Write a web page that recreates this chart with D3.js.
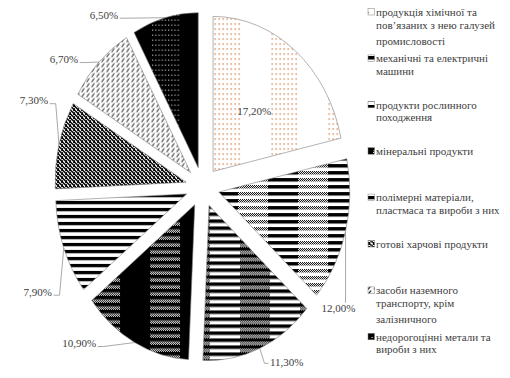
<!DOCTYPE html>
<html>
<head>
<meta charset="utf-8">
<script src="https://cdn.jsdelivr.net/npm/d3@7"></script>
<style>
  body { margin: 0; background: #fff; }
</style>
</head>
<body>
<div id="chart"></div>
<script>
// data (shares of exports, %)
var legendLines = [
  ["продукція хімічної та", "пов’язаних з нею галузей", "промисловості"],
  ["механічні та електричні", "машини"],
  ["продукти рослинного", "походження"],
  ["мінеральні продукти"],
  ["полімерні матеріали,", "пластмаса та вироби з них"],
  ["готові харчові продукти"],
  ["засоби наземного", "транспорту, крім", "залізничного"],
  ["недорогоцінні метали та", "вироби з них"]
];
var categories = legendLines.map(l => l.join(" "));
var shares = [17.2, 12.0, 11.3, 10.9, 7.9, 7.3, 6.7, 6.5];

// label placement: offset of the label from the slice's outer middle point
var labelPlace = [
  {inside: true},
  {dx: -7, dy: 76.5, side: "top"},
  {dx: 27, dy: 14, side: "left"},
  {dx: -55.5, dy: 0.5, side: "right"},
  {dx: -26, dy: 44, side: "right"},
  {dx: -25, dy: -44.5, side: "right"},
  {dx: -35, dy: -3, side: "right"},
  {dx: -61, dy: -3, side: "right"}
];

var width = 510, height = 378;
var cx = 202.5, cy = 187, radius = 155, sx = 0.845, explode = 20;
var textColor = "#404040";

// pick the first serif face that is really installed
function pickFont(list) {
  var ctx = document.createElement("canvas").getContext("2d");
  var probe = "пов’язаних з нею галузей 0123456789 mmwwii";
  var base = {};
  ["monospace", "sans-serif"].forEach(b => { ctx.font = "40px " + b; base[b] = ctx.measureText(probe).width; });
  for (var f of list) {
    var hit = ["monospace", "sans-serif"].some(b => {
      ctx.font = `40px '${f}', ${b}`;
      return ctx.measureText(probe).width !== base[b];
    });
    if (hit) return `'${f}', serif`;
  }
  return "serif";
}
var serif = pickFont(["Liberation Serif", "DejaVu Serif", "Tinos", "Times New Roman", "Noto Serif", "FreeSerif", "Nimbus Roman"]);

var svg = d3.select("#chart").append("svg")
    .attr("width", width)
    .attr("height", height)
    .attr("font-family", serif);

var defs = svg.append("defs");

// 1px checker used inside other patterns
var chk = defs.append("pattern").attr("id", "chk")
    .attr("patternUnits", "userSpaceOnUse").attr("width", 2).attr("height", 2);
chk.append("rect").attr("width", 2).attr("height", 2).attr("fill", "#fff");
chk.append("rect").attr("width", 1).attr("height", 1).attr("fill", "#000");
chk.append("rect").attr("x", 1).attr("y", 1).attr("width", 1).attr("height", 1).attr("fill", "#000");

function pattern(id, w, h, x) {
  return defs.append("pattern").attr("id", id)
      .attr("patternUnits", "userSpaceOnUse")
      .attr("width", w).attr("height", h).attr("x", x || 0)
      .attr("patternTransform", `scale(${1 / sx},1)`);
}

// p0: white with orange dots in vertical bands
var p0 = pattern("p0", 57, 5, 0);
p0.append("rect").attr("width", 57).attr("height", 5).attr("fill", "#fff");
d3.range(7).forEach(k => p0.append("rect").attr("x", 1.5 + 4 * k).attr("y", 2)
    .attr("width", 1.2).attr("height", 1.2).attr("fill", "#c55a11"));

// p1: stripes band + checker/white band
var p1 = pattern("p1", 60, 7, -10.8);
p1.append("rect").attr("width", 60).attr("height", 7).attr("fill", "#fff");
p1.append("rect").attr("width", 30).attr("height", 3.5).attr("fill", "#000");
p1.append("rect").attr("x", 30).attr("width", 30).attr("height", 3.5).attr("fill", "url(#chk)");

// p2: stripes band + black/checker band
var p2 = pattern("p2", 60, 7, 1);
p2.append("rect").attr("width", 60).attr("height", 7).attr("fill", "#fff");
p2.append("rect").attr("width", 30).attr("height", 3.5).attr("fill", "#000");
p2.append("rect").attr("x", 30).attr("width", 30).attr("height", 3.5).attr("fill", "#000");
p2.append("rect").attr("x", 30).attr("y", 3.5).attr("width", 30).attr("height", 3.5).attr("fill", "url(#chk)");

// p3: black band + checker/black band
var p3 = pattern("p3", 60, 7, -14.7);
p3.append("rect").attr("width", 60).attr("height", 7).attr("fill", "#000");
p3.append("rect").attr("x", 30).attr("y", 3.5).attr("width", 30).attr("height", 3.5).attr("fill", "url(#chk)");

// p4: horizontal stripes
var p4 = pattern("p4", 8, 7, 0);
p4.append("rect").attr("width", 8).attr("height", 7).attr("fill", "#fff");
p4.append("rect").attr("width", 8).attr("height", 3.3).attr("fill", "#000");

// p5: dense small maze-like texture
var p5 = pattern("p5", 4, 4, 0);
p5.append("rect").attr("width", 4).attr("height", 4).attr("fill", "#fff");
[[0,0],[1,0],[3,0],[1,1],[2,1],[0,2],[2,2],[3,2],[0,3],[3,3]].forEach(p =>
  p5.append("rect").attr("x", p[0]).attr("y", p[1]).attr("width", 1).attr("height", 1).attr("fill", "#000"));

// p6: short diagonal dashes
var p6 = pattern("p6", 5, 5, 0);
p6.append("rect").attr("width", 5).attr("height", 5).attr("fill", "#fff");
p6.append("path").attr("d", "M1,4.5L3.5,0.5").attr("stroke", "#000").attr("stroke-width", 1);

// p7: black with a band of white dots
var p7 = pattern("p7", 60, 5, -18);
p7.append("rect").attr("width", 60).attr("height", 5).attr("fill", "#000");
d3.range(9).forEach(k => p7.append("rect").attr("x", 32 + 3.2 * k).attr("y", 2)
    .attr("width", 1).attr("height", 1).attr("fill", "#fff"));

var arcs = d3.pie().sort(null).value(d => d)(shares);
var arc = d3.arc().innerRadius(0).outerRadius(radius);
var mid = d => (d.startAngle + d.endAngle) / 2;

// point on the (horizontally squeezed, exploded) pie in page coordinates
function pagePoint(d, r, a) {
  var m = mid(d);
  return [cx + sx * (explode * Math.sin(m) + r * Math.sin(a)),
          cy - explode * Math.cos(m) - r * Math.cos(a)];
}

var pieG = svg.append("g")
    .attr("transform", `translate(${cx},${cy}) scale(${sx},1)`);

pieG.selectAll("path")
  .data(arcs)
  .join("path")
    .attr("transform", d => `translate(${explode * Math.sin(mid(d))},${-explode * Math.cos(mid(d))})`)
    .attr("d", arc)
    .attr("fill", (d, i) => `url(#p${i})`)
    .attr("stroke", "#7f7f7f")
    .attr("stroke-width", 0.6)
    .attr("vector-effect", "non-scaling-stroke");

var fmt = v => v.toFixed(2).replace(".", ",") + "%";

var labelG = svg.append("g").attr("font-size", 11).attr("fill", textColor);

arcs.forEach((d, i) => {
  var lp = labelPlace[i];
  if (lp.inside) {
    var c = pagePoint(d, radius / 2, mid(d));
    labelG.append("text").attr("x", c[0]).attr("y", c[1]).attr("dy", "0.35em")
        .attr("text-anchor", "middle").text(fmt(d.data));
    return;
  }
  var p = pagePoint(d, radius, mid(d));
  var tx = p[0] + lp.dx, ty = p[1] + lp.dy;
  var t = labelG.append("text").attr("x", tx).attr("y", ty).attr("dy", "0.35em")
      .attr("text-anchor", "middle").text(fmt(d.data));
  var bb = t.node().getBBox();
  var pts;
  if (lp.side === "top") {
    pts = [[p[0], bb.y + 1], p];
  } else if (lp.side === "right") {
    var sx0 = bb.x + bb.width + 1.5, sy0 = ty + 3.5;
    pts = [[sx0, sy0], [sx0 + 6, sy0], p];
  } else {
    var sx1 = bb.x - 1.5, sy1 = ty + 1;
    pts = [[sx1, sy1], [sx1 - 4, sy1], p];
  }
  svg.append("path")
      .attr("d", d3.line()(pts))
      .attr("fill", "none")
      .attr("stroke", "#8c8c8c")
      .attr("stroke-width", 0.75);
});

// legend
var legX = 368, legTop = 12, slot = 46.4, lineStep = 16.5;
var leg = svg.append("g").attr("font-size", 11).attr("fill", textColor);

legendLines.forEach((lines, i) => {
  var y0 = legTop + i * slot;
  leg.append("rect")
      .attr("x", legX).attr("y", y0 - 3.5)
      .attr("width", 6.5).attr("height", 6.5)
      .attr("fill", `url(#p${i})`)
      .attr("stroke", "#7f7f7f").attr("stroke-width", 0.5);
  leg.append("text")
      .attr("x", legX + 8).attr("y", y0).attr("dy", "0.35em")
    .selectAll("tspan")
    .data(lines)
    .join("tspan")
      .attr("x", legX + 8)
      .attr("y", (l, k) => y0 + k * lineStep)
      .text(l => l);
});
</script>
</body>
</html>
